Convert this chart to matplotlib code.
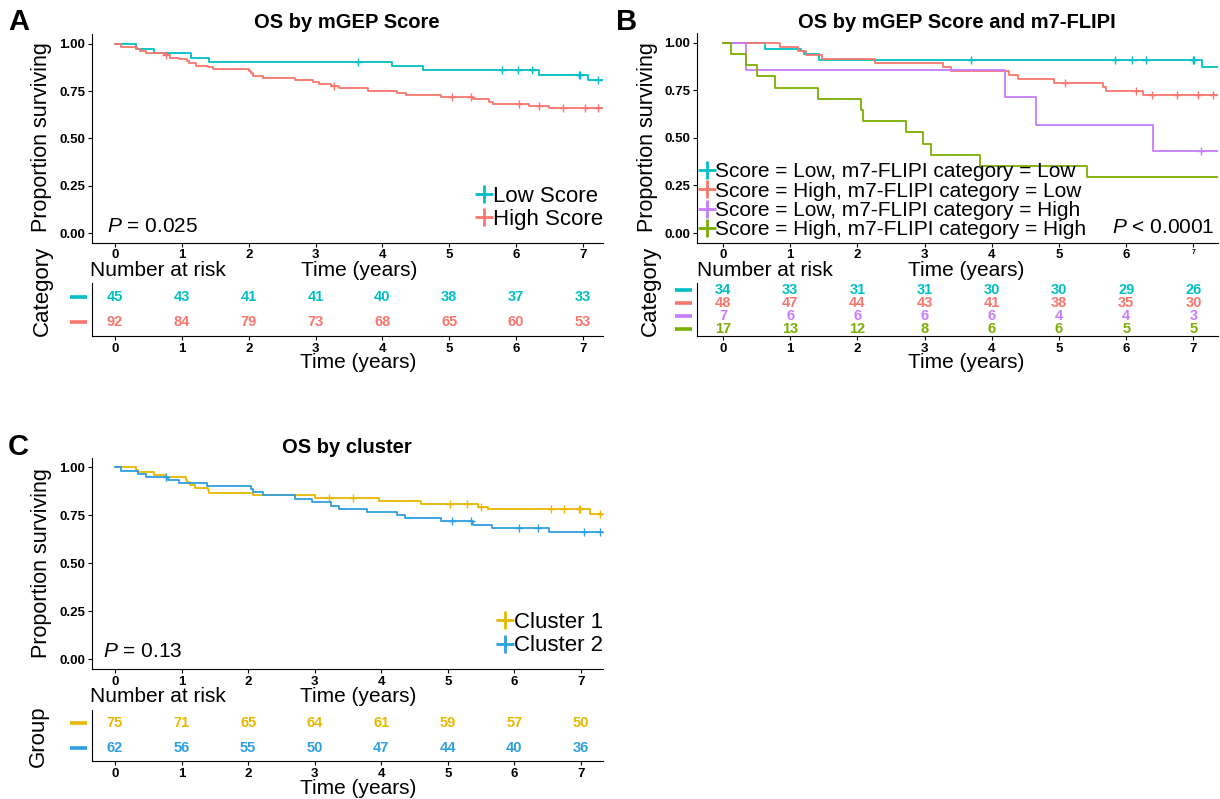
import numpy as np
import matplotlib
matplotlib.use('Agg')
from matplotlib import pyplot as plt
from matplotlib.lines import Line2D

plt.rcParams['font.family'] = 'Liberation Sans'
plt.rcParams['mathtext.fontset'] = 'custom'
plt.rcParams['mathtext.it'] = 'Liberation Sans:italic'
plt.rcParams['mathtext.rm'] = 'Liberation Sans'

# ---- data ----
years = [0, 1, 2, 3, 4, 5, 6, 7]

# panel A: OS by mGEP score
a_low_t = [0, 0.32, 0.59, 1.13, 1.40, 4.15, 4.60, 6.35, 7.07]
a_low_s = [1.0, 0.973, 0.950, 0.928, 0.906, 0.884, 0.861, 0.834, 0.810]
a_low_c = [3.63, 5.79, 6.03, 6.24, 6.94, 6.96, 7.22]
a_high_t = [0, 0.09, 0.33, 0.37, 0.47, 0.74, 0.82, 0.96, 1.07, 1.11, 1.21, 1.39, 1.46,
            2.00, 2.03, 2.07, 2.22, 2.69, 2.96, 3.05, 3.23, 3.35, 3.78, 4.22, 4.35,
            4.87, 5.36, 5.59, 5.65, 6.20, 6.49]
a_high_s = [1.0, 0.984, 0.975, 0.962, 0.952, 0.940, 0.926, 0.918, 0.908, 0.898, 0.885,
            0.877, 0.866, 0.857, 0.845, 0.831, 0.820, 0.810, 0.799, 0.787, 0.778, 0.766,
            0.753, 0.741, 0.730, 0.720, 0.709, 0.695, 0.684, 0.674, 0.661]
a_high_c = [0.76, 3.27, 5.04, 5.32, 6.05, 6.34, 6.70, 7.03, 7.22]
a_labels = ['Low Score', 'High Score']
a_risk = [[45, 43, 41, 41, 40, 38, 37, 33],
          [92, 84, 79, 73, 68, 65, 60, 53]]

# panel B: OS by mGEP score and m7-FLIPI
b_ll_t = [0, 0.625, 1.16, 1.21, 1.43, 7.13]
b_ll_s = [1.0, 0.971, 0.956, 0.941, 0.912, 0.872]
b_ll_c = [3.69, 5.84, 6.09, 6.30, 6.99, 7.01]
b_hl_t = [0, 0.85, 1.12, 1.24, 1.48, 2.26, 3.28, 3.39, 4.26, 4.39, 4.92, 5.65, 5.70, 6.25]
b_hl_s = [1.0, 0.979, 0.958, 0.9375, 0.917, 0.896, 0.875, 0.854, 0.833, 0.8125, 0.790,
          0.770, 0.748, 0.726]
b_hl_c = [5.09, 6.14, 6.39, 6.75, 7.07, 7.29]
b_lh_t = [0, 0.34, 4.20, 4.66, 6.40]
b_lh_s = [1.0, 0.857, 0.714, 0.571, 0.429]
b_lh_c = [7.12]
b_hh_t = [0, 0.12, 0.34, 0.50, 0.77, 1.42, 2.05, 2.09, 2.73, 2.98, 3.10, 3.82, 5.42]
b_hh_s = [1.0, 0.941, 0.882, 0.824, 0.765, 0.706, 0.647, 0.588, 0.529, 0.471, 0.412,
          0.353, 0.294]
b_hh_c = []
b_labels = ['Score = Low, m7-FLIPI category = Low',
            'Score = High, m7-FLIPI category = Low',
            'Score = Low, m7-FLIPI category = High',
            'Score = High, m7-FLIPI category = High']
b_risk = [[34, 33, 31, 31, 30, 30, 29, 26],
          [48, 47, 44, 43, 41, 38, 35, 30],
          [7, 6, 6, 6, 6, 4, 4, 3],
          [17, 13, 12, 8, 6, 6, 5, 5]]

# panel C: OS by cluster
c_1_t = [0, 0.31, 0.34, 0.59, 0.77, 1.06, 1.08, 1.12, 1.20, 1.39, 1.41, 2.07, 3.00,
         3.96, 4.60, 5.45, 5.60, 7.13]
c_1_s = [1.0, 0.987, 0.973, 0.960, 0.947, 0.933, 0.920, 0.907, 0.893, 0.880, 0.867,
         0.853, 0.840, 0.822, 0.808, 0.794, 0.780, 0.754]
c_1_c = [3.22, 3.58, 5.03, 5.28, 5.50, 6.55, 6.74, 6.97, 6.99, 7.29]
c_2_t = [0, 0.09, 0.34, 0.47, 0.80, 0.96, 1.38, 2.05, 2.08, 2.22, 2.70, 2.96, 3.25,
         3.37, 3.79, 4.24, 4.36, 4.89, 5.38, 5.67, 6.52]
c_2_s = [1.0, 0.979, 0.963, 0.948, 0.932, 0.915, 0.900, 0.884, 0.868, 0.853, 0.833,
         0.818, 0.800, 0.783, 0.766, 0.752, 0.734, 0.719, 0.701, 0.682, 0.665]
c_2_c = [0.77, 5.06, 5.34, 6.07, 6.36, 7.05, 7.29]
c_labels = ['Cluster 1', 'Cluster 2']
c_risk = [[75, 71, 65, 64, 61, 59, 57, 50],
          [62, 56, 55, 50, 47, 44, 40, 36]]

cyan, red, purple, green = '#00BFC4', '#F8766D', '#C77CFF', '#7CAE00'
yellow, blue = '#E7B800', '#2E9FDF'

W, H = 1220, 799
fig = plt.figure(figsize=(W / 100, H / 100), dpi=100)


def add_px(l, t, r, b):
    return fig.add_axes([l / W, 1 - b / H, (r - l) / W, (b - t) / H])


def ftext(x, y, s, **kw):
    fig.text(x / W, 1 - y / H, s, **kw)


def style(ax, xlim):
    ax.spines['right'].set_visible(False)
    ax.spines['top'].set_visible(False)
    ax.set_xlim(*xlim)
    ax.set_xticks(years)
    ax.tick_params(labelsize=9.5, length=3, width=0.8, pad=2)
    for lbl in ax.get_xticklabels() + ax.get_yticklabels():
        lbl.set_fontweight('bold')


def km(ax, t, s, cens, color):
    ax.step(list(t) + [7.5], list(s) + [s[-1]], where='post', color=color, lw=1.3)
    if len(cens):
        idx = np.searchsorted(t, cens, side='right') - 1
        ax.plot(cens, np.array(s)[idx], '+', color=color, ms=6, mew=1.0)


def main_plot(ax, xlim, curves, labels, colors, ptxt, legend_kw, p_kw):
    for (t, s, c), col in zip(curves, colors):
        km(ax, t, s, c, col)
    ax.set_ylim(-0.05, 1.05)
    ax.set_yticks([0, 0.25, 0.5, 0.75, 1.0])
    ax.set_yticklabels(['0.00', '0.25', '0.50', '0.75', '1.00'])
    style(ax, xlim)
    handles = [Line2D([], [], ls='none', marker='+', ms=13, mew=2, color=c) for c in colors]
    ax.legend(handles, labels, frameon=False, handlelength=0.7, handletextpad=0.05,
              borderpad=0, borderaxespad=0, **legend_kw)
    ax.text(s=ptxt, transform=ax.transAxes, **p_kw)


def risk_table(ax, xlim, risk, colors, ylim, width_px):
    n = len(risk)
    trans = ax.get_yaxis_transform()
    for i, (row, col) in enumerate(zip(risk, colors)):
        for x, v in zip(years, row):
            ax.text(x, n - i, str(v), color=col, ha='center', va='center',
                    fontsize=10.5, fontweight='bold')
        # coloured key to the left of the axis, like the strata bars in survminer
        ax.plot([-22 / width_px, -5 / width_px], [n - i, n - i], transform=trans,
                clip_on=False, color=col, lw=2.6, solid_capstyle='butt')
    ax.set_ylim(*ylim)
    ax.set_yticks([])
    style(ax, xlim)


xa = (-0.344, 7.30)
xb = (-0.387, 7.366)
xc = (-0.345, 7.33)

# ---- A ----
axA = add_px(92, 34.5, 603, 242.5)
main_plot(axA, xa, [(a_low_t, a_low_s, a_low_c), (a_high_t, a_high_s, a_high_c)],
          a_labels, [cyan, red], r'$\it{P}$ = 0.025',
          dict(loc='lower right', bbox_to_anchor=(1.0, 0.06), fontsize=16, labelspacing=0.1),
          dict(x=0.03, y=0.075, fontsize=15, va='center', ha='left'))
tA = add_px(92, 283, 603, 336)
risk_table(tA, xa, a_risk, [cyan, red], (0.44, 2.56), 511)

# ---- B ----
axB = add_px(697, 33.5, 1218, 242.5)
main_plot(axB, xb, [(b_ll_t, b_ll_s, b_ll_c), (b_hl_t, b_hl_s, b_hl_c),
                    (b_lh_t, b_lh_s, b_lh_c), (b_hh_t, b_hh_s, b_hh_c)],
          b_labels, [cyan, red, purple, green], r'$\it{P}$ < 0.0001',
          dict(loc='lower left', bbox_to_anchor=(0.005, 0.015), fontsize=15, labelspacing=0.02),
          dict(x=0.994, y=0.07, fontsize=15, va='center', ha='right'))
axB.get_xticklabels()[-1].set_fontsize(5)
tB = add_px(697, 283, 1218, 336)
risk_table(tB, xb, b_risk, [cyan, red, purple, green], (0.46, 4.54), 521)

# ---- C ----
axC = add_px(92, 457.5, 603, 669)
main_plot(axC, xc, [(c_1_t, c_1_s, c_1_c), (c_2_t, c_2_s, c_2_c)],
          c_labels, [yellow, blue], r'$\it{P}$ = 0.13',
          dict(loc='lower right', bbox_to_anchor=(1.0, 0.06), fontsize=16, labelspacing=0.1),
          dict(x=0.0215, y=0.083, fontsize=15, va='center', ha='left'))
tC = add_px(92, 710, 603, 761)
risk_table(tC, xc, c_risk, [yellow, blue], (0.5, 2.5), 511)

# ---- titles and labels ----
ftext(8, 22, 'A', fontsize=21, fontweight='bold', va='center')
ftext(616, 22, 'B', fontsize=21, fontweight='bold', va='center')
ftext(8, 447, 'C', fontsize=21, fontweight='bold', va='center')
ftext(347, 22, 'OS by mGEP Score', fontsize=14.5, fontweight='bold', ha='center', va='center')
ftext(957, 22, 'OS by mGEP Score and m7-FLIPI', fontsize=14.5, fontweight='bold', ha='center', va='center')
ftext(347, 447, 'OS by cluster', fontsize=14.5, fontweight='bold', ha='center', va='center')

for x, yc in [(42, 137), (648, 137), (42, 563)]:
    ftext(x, yc, 'Proportion surviving', fontsize=15.5, rotation=90, ha='center', va='center')

for x0, xt, y in [(90, 359, 271), (697, 966, 271), (90, 358, 697)]:
    ftext(x0, y, 'Number at risk', fontsize=15, ha='left', va='center')
    ftext(xt, y, 'Time (years)', fontsize=15, ha='center', va='center')

ftext(358, 363, 'Time (years)', fontsize=15, ha='center', va='center')
ftext(966, 363, 'Time (years)', fontsize=15, ha='center', va='center')
ftext(358, 788, 'Time (years)', fontsize=15, ha='center', va='center')

ftext(42, 291, 'Category', fontsize=16, rotation=90, ha='center', va='center')
ftext(650, 291, 'Category', fontsize=16, rotation=90, ha='center', va='center')
ftext(38, 736, 'Group', fontsize=16, rotation=90, ha='center', va='center')

fig.savefig('out.png', dpi=100)
